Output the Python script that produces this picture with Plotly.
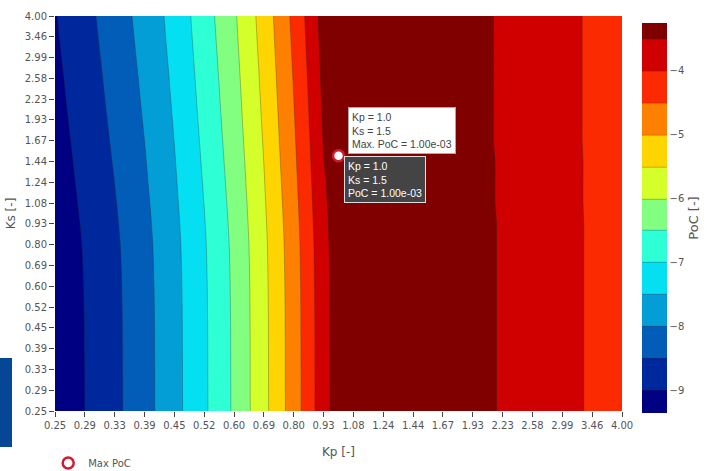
import math
import plotly.graph_objects as go

# ---------------- data ----------------
kp_ticks = [0.25, 0.289278, 0.334727, 0.387317, 0.448169, 0.518582, 0.600056, 0.694331,
            0.803417, 0.929642, 1.075698, 1.244697, 1.440251, 1.666529, 1.928358,
            2.231322, 2.581885, 2.987526, 3.456897, 4.0]
ks_ticks = [0.25, 0.289278, 0.334727, 0.387317, 0.448169, 0.518582, 0.600056, 0.694331,
            0.803417, 0.929642, 1.075698, 1.244697, 1.440251, 1.666529, 1.928358,
            2.231322, 2.581885, 2.987526, 3.456897, 4.0]
tick_text = ["0.25", "0.29", "0.33", "0.39", "0.45", "0.52", "0.60", "0.69", "0.80", "0.93",
             "1.08", "1.24", "1.44", "1.67", "1.93", "2.23", "2.58", "2.99", "3.46", "4.00"]

kp_grid = [0.25, 0.289278, 0.334727, 0.387317, 0.448169, 0.518582, 0.600056, 0.694331,
           0.803417, 0.86424, 0.929642, 1.0, 1.075698, 1.244697, 1.440251, 1.666529,
           1.928358, 2.231322, 2.581885, 2.987526, 3.456897, 4.0]
ks_grid = [0.25, 0.289278, 0.334727, 0.387317, 0.448169, 0.518582, 0.600056, 0.694331,
           0.803417, 0.929642, 1.075698, 1.244697, 1.440251, 1.666529, 1.928358,
           2.231322, 2.581885, 2.987526, 3.456897, 4.0]

# one list per Ks row: rising flank (left) followed by plateau / slow decay (right)
row_00 = [-9.360, -9.000, -8.620, -8.180, -7.660, -7.080, -6.430, -5.640, -4.750, -4.240, -3.670,
          -3.27, -3.26, -3.27, -3.31, -3.36, -3.42, -3.52, -3.69, -3.87, -4.05, -4.22]
row_01 = [-9.359, -8.999, -8.619, -8.179, -7.659, -7.079, -6.429, -5.639, -4.749, -4.239, -3.669,
          -3.27, -3.26, -3.27, -3.31, -3.36, -3.42, -3.52, -3.69, -3.87, -4.05, -4.22]
row_02 = [-9.358, -8.998, -8.618, -8.178, -7.658, -7.078, -6.428, -5.638, -4.748, -4.238, -3.668,
          -3.27, -3.26, -3.27, -3.31, -3.36, -3.42, -3.52, -3.69, -3.87, -4.05, -4.22]
row_03 = [-9.357, -8.996, -8.616, -8.176, -7.657, -7.077, -6.426, -5.637, -4.746, -4.236, -3.666,
          -3.27, -3.26, -3.27, -3.31, -3.36, -3.42, -3.52, -3.69, -3.87, -4.05, -4.22]
row_04 = [-9.355, -8.995, -8.614, -8.175, -7.655, -7.075, -6.425, -5.635, -4.744, -4.234, -3.664,
          -3.27, -3.26, -3.27, -3.31, -3.36, -3.42, -3.52, -3.69, -3.87, -4.05, -4.22]
row_05 = [-9.352, -8.991, -8.611, -8.171, -7.652, -7.071, -6.421, -5.631, -4.741, -4.230, -3.660,
          -3.27, -3.26, -3.27, -3.31, -3.36, -3.42, -3.52, -3.69, -3.87, -4.05, -4.22]
row_06 = [-9.347, -8.986, -8.605, -8.166, -7.647, -7.066, -6.416, -5.626, -4.735, -4.225, -3.654,
          -3.27, -3.26, -3.27, -3.31, -3.36, -3.42, -3.52, -3.69, -3.87, -4.05, -4.22]
row_07 = [-9.339, -8.977, -8.596, -8.157, -7.639, -7.057, -6.407, -5.617, -4.726, -4.215, -3.645,
          -3.27, -3.26, -3.27, -3.31, -3.36, -3.42, -3.52, -3.69, -3.87, -4.05, -4.22]
row_08 = [-9.327, -8.965, -8.583, -8.144, -7.627, -7.045, -6.394, -5.605, -4.713, -4.202, -3.631,
          -3.27, -3.26, -3.27, -3.31, -3.36, -3.42, -3.52, -3.69, -3.87, -4.05, -4.22]
row_09 = [-9.306, -8.942, -8.559, -8.121, -7.606, -7.022, -6.371, -5.582, -4.689, -4.177, -3.606,
          -3.27, -3.26, -3.27, -3.31, -3.36, -3.42, -3.52, -3.69, -3.87, -4.05, -4.22]
row_10 = [-9.279, -8.914, -8.529, -8.092, -7.579, -6.994, -6.342, -5.554, -4.659, -4.147, -3.574,
          -3.27, -3.26, -3.27, -3.31, -3.365, -3.425, -3.525, -3.695, -3.875, -4.055, -4.225]
row_11 = [-9.251, -8.885, -8.498, -8.061, -7.551, -6.965, -6.311, -5.525, -4.628, -4.115, -3.541,
          -3.27, -3.26, -3.27, -3.31, -3.365, -3.425, -3.525, -3.695, -3.875, -4.055, -4.225]
row_12 = [-9.223, -8.855, -8.466, -8.031, -7.523, -6.935, -6.281, -5.495, -4.596, -4.082, -3.508,
          -3.27, -3.26, -3.27, -3.31, -3.365, -3.425, -3.525, -3.695, -3.875, -4.055, -4.225]
row_13 = [-9.195, -8.825, -8.435, -8.000, -7.495, -6.905, -6.250, -5.465, -4.565, -4.050, -3.475,
          -3.27, -3.26, -3.27, -3.31, -3.37, -3.43, -3.53, -3.70, -3.88, -4.06, -4.23]
row_14 = [-9.167, -8.795, -8.404, -7.969, -7.467, -6.875, -6.219, -5.435, -4.534, -4.018, -3.442,
          -3.27, -3.26, -3.27, -3.31, -3.37, -3.43, -3.53, -3.70, -3.88, -4.06, -4.23]
row_15 = [-9.139, -8.766, -8.372, -7.939, -7.439, -6.846, -6.189, -5.406, -4.502, -3.985, -3.409,
          -3.27, -3.26, -3.27, -3.31, -3.37, -3.43, -3.53, -3.70, -3.88, -4.06, -4.23]
row_16 = [-9.113, -8.738, -8.343, -7.910, -7.413, -6.818, -6.160, -5.378, -4.473, -3.955, -3.378,
          -3.27, -3.26, -3.27, -3.31, -3.37, -3.43, -3.53, -3.70, -3.88, -4.06, -4.23]
row_17 = [-9.084, -8.708, -8.311, -7.879, -7.384, -6.788, -6.129, -5.348, -4.441, -3.923, -3.344,
          -3.27, -3.26, -3.27, -3.31, -3.37, -3.43, -3.53, -3.70, -3.88, -4.06, -4.23]
row_18 = [-9.056, -8.678, -8.280, -7.849, -7.356, -6.758, -6.099, -5.318, -4.410, -3.890, -3.311,
          -3.27, -3.26, -3.27, -3.31, -3.37, -3.43, -3.53, -3.70, -3.88, -4.06, -4.23]
row_19 = [-9.030, -8.650, -8.250, -7.820, -7.330, -6.730, -6.070, -5.290, -4.380, -3.860, -3.280,
          -3.27, -3.26, -3.27, -3.31, -3.37, -3.43, -3.53, -3.70, -3.88, -4.06, -4.23]

log_poc = [row_00, row_01, row_02, row_03, row_04, row_05, row_06, row_07, row_08, row_09,
           row_10, row_11, row_12, row_13, row_14, row_15, row_16, row_17, row_18, row_19]

max_kp = [1.0]
max_ks = [1.5]
max_poc = [1.00e-03]

FONT = "DejaVu Sans, Verdana, sans-serif"
HOVER_FONT = "Liberation Sans, Arial, sans-serif"

JET = [[0, "rgb(0,0,131)"], [0.125, "rgb(0,60,170)"], [0.375, "rgb(5,255,255)"],
       [0.625, "rgb(255,255,0)"], [0.875, "rgb(250,0,0)"], [1, "rgb(128,0,0)"]]

fig = go.Figure()
fig.add_trace(go.Contour(
    x=kp_grid, y=ks_grid, z=log_poc,
    colorscale=JET,
    contours=dict(start=-9, end=-3.5, size=0.5, coloring="fill"),
    zmin=-9.36, zmax=-3.25,
    line=dict(width=0.5, color="rgba(40,40,40,0.6)"),
    showlegend=False,
    colorbar=dict(
        title=dict(text="PoC [-]", side="right", font=dict(family=FONT, size=13, color="#555")),
        thickness=25, len=390, lenmode="pixels",
        x=(641.7 - 55) / 567, xanchor="left", xpad=0,
        y=(411 - 218) / 395, yanchor="middle", ypad=0,
        outlinewidth=0,
        tickfont=dict(family=FONT, size=10, color="#555"),
        dtick=1,
    ),
))
fig.add_trace(go.Scatter(
    x=max_kp, y=max_ks, mode="markers", name="Max PoC",
    marker=dict(symbol="circle", size=11, color="white",
                line=dict(color="rgb(210,25,50)", width=2.5)),
))

px_, py_ = math.log10(max_kp[0]), math.log10(max_ks[0])
fig.add_annotation(
    x=px_, y=py_, xref="x", yref="y", showarrow=False,
    xanchor="left", yanchor="bottom", xshift=9, yshift=2, align="left",
    text="Kp = %.1f<br>Ks = %.1f<br>Max. PoC = %.2e" % (max_kp[0], max_ks[0], max_poc[0]),
    font=dict(family=HOVER_FONT, size=10.5, color="#444"),
    bgcolor="white", bordercolor="#aaa", borderwidth=1, borderpad=3,
)
fig.add_annotation(
    x=px_, y=py_, xref="x", yref="y", showarrow=False,
    xanchor="left", yanchor="top", xshift=5, yshift=0, align="left",
    text="Kp = %.1f<br>Ks = %.1f<br>PoC = %.2e" % (max_kp[0], max_ks[0], max_poc[0]),
    font=dict(family=HOVER_FONT, size=10.5, color="white"),
    bgcolor="rgb(68,68,68)", bordercolor="#ddd", borderwidth=1, borderpad=3,
)

axis_common = dict(
    type="log", tickmode="array", ticktext=tick_text,
    ticks="outside", ticklen=5, tickcolor="#444", tickwidth=1,
    tickfont=dict(family=FONT, size=10, color="#555"),
    showgrid=False, zeroline=False, showline=False,
    range=[math.log10(0.25), math.log10(4.0)],
)
fig.update_layout(
    width=707, height=471,
    margin=dict(l=55, r=85, t=16, b=60, autoexpand=False),
    paper_bgcolor="white", plot_bgcolor="white",
    xaxis=dict(axis_common, tickvals=kp_ticks,
               title=dict(text="Kp [-]", standoff=17, font=dict(family=FONT, size=12, color="#555"))),
    yaxis=dict(axis_common, tickvals=ks_ticks,
               title=dict(text="Ks [-]", standoff=6, font=dict(family=FONT, size=12, color="#555"))),
    showlegend=True,
    legend=dict(orientation="h", x=-0.012, xanchor="left", y=(411 - 463) / 395, yanchor="middle",
                font=dict(family=FONT, size=10, color="#555"), bgcolor="rgba(0,0,0,0)"),
    shapes=[dict(type="rect", xref="paper", yref="paper",
                 x0=(0 - 55) / 567, x1=(12 - 55) / 567,
                 y0=(411 - 447) / 395, y1=(411 - 358) / 395,
                 fillcolor="rgb(5,70,150)", line=dict(width=0), layer="above")],
)

fig.write_html("out.html", config={"displayModeBar": False},
               post_script="document.body.style.margin='0px';document.body.style.overflow='hidden';")
